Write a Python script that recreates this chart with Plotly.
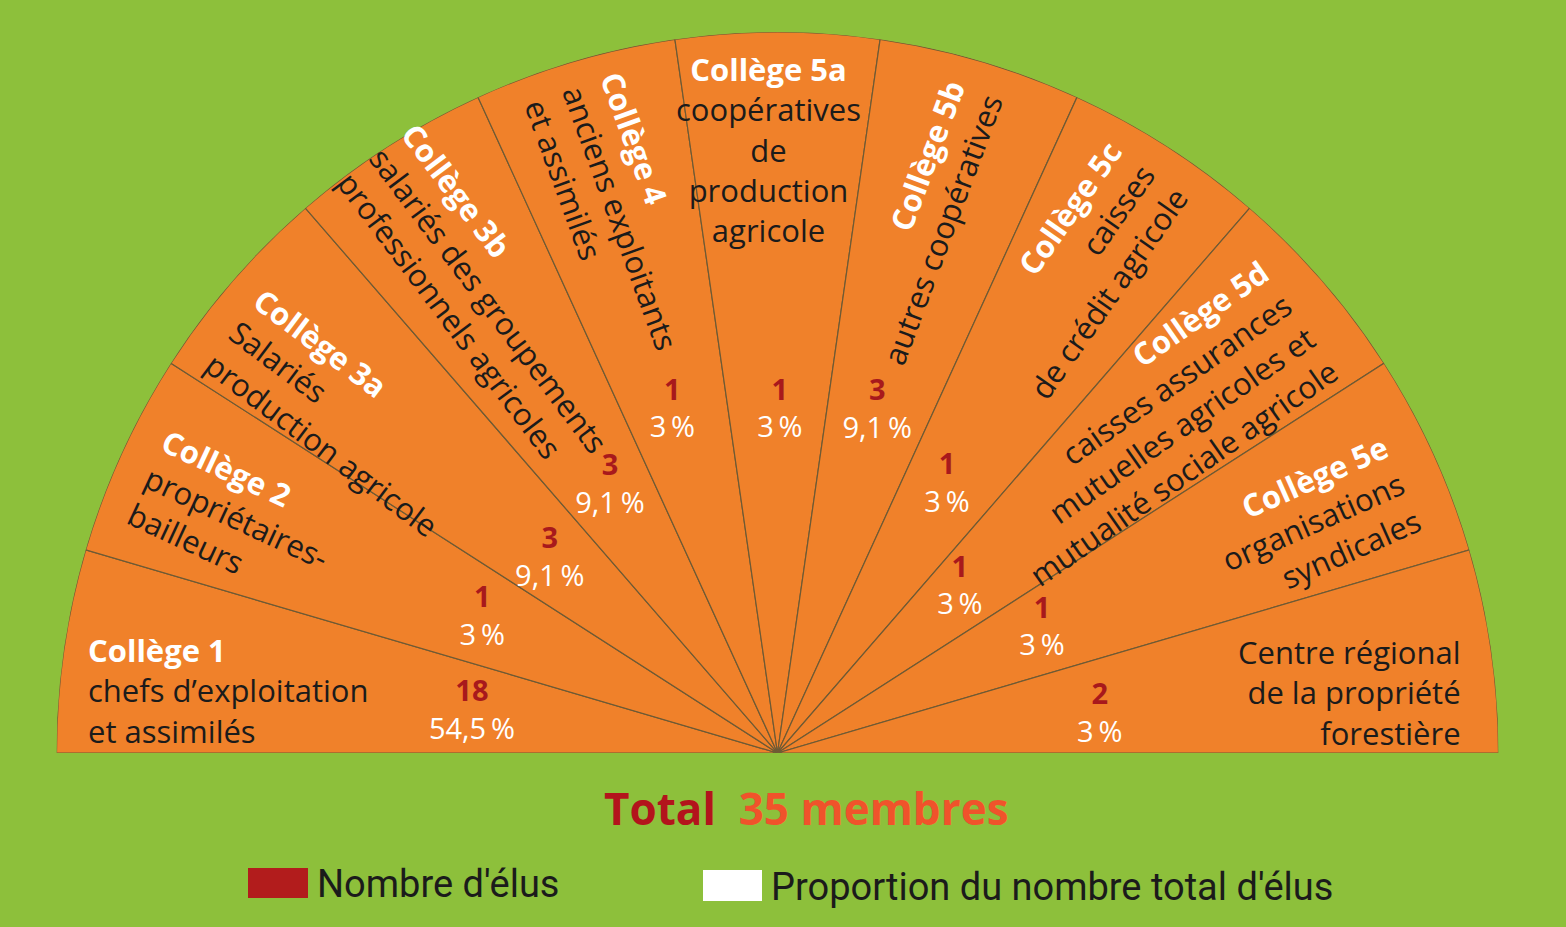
import plotly.graph_objects as go

# ---------------- data ----------------
colleges = ["Collège 1", "Collège 2", "Collège 3a", "Collège 3b", "Collège 4",
            "Collège 5a", "Collège 5b", "Collège 5c", "Collège 5d", "Collège 5e", ""]
descriptions = [
    ["chefs d’exploitation", "et assimilés"],
    ["propriétaires-", "bailleurs"],
    ["Salariés", "production agricole"],
    ["salariés des groupements", "professionnels agricoles"],
    ["anciens exploitants", "et assimilés"],
    ["coopératives", "de", "production", "agricole"],
    ["autres coopératives"],
    ["caisses", "de crédit agricole"],
    ["caisses assurances", "mutuelles agricoles et", "mutualité sociale agricole"],
    ["organisations", "syndicales"],
    ["Centre régional", "de la propriété", "forestière"],
]
elus = [18, 1, 3, 3, 1, 1, 3, 1, 1, 1, 2]
proportion = [54.5, 3, 9.1, 9.1, 3, 3, 9.1, 3, 3, 3, 3]
total_membres = 35
legend_labels = ["Nombre d'élus", "Proportion du nombre total d'élus"]

# ---------------- layout / style ----------------
W, H = 1566, 927
CX, CY, R = 777.5, 753.0, 721.0
GREEN = "#8dc03b"
ORANGE = "#f0812a"
EDGE = "#6e5a35"
DARKRED = "#a8191c"
TEXT = "#1b1b1b"
FONT = "'Open Sans', Roboto, sans-serif"

n = len(elus)
step = 180.0 / n
theta_c = [180 - (k + 0.5) * step for k in range(n)]

# label block placement (pixel centre / anchor), text angle, alignment
label_pos = [(86, 690), (237, 517), (346, 412), (488, 300), (620, 218), (768, 150),
             (923, 223), (1075, 270), (1148, 423), (1313, 521), (1463, 692)]
label_angle = [0, 25, 37, 53, 70, 0, -69.5, -55, -35, -24, 0]
label_align = ["left", "left", "left", "left", "left", "center",
               "right", "right", "right", "right", "right"]
label_xanchor = ["left", "center", "center", "center", "center", "center",
                 "center", "center", "center", "center", "right"]

# value-label positions in polar coordinates (fraction of radius, degrees)
val_r = [0.4275, 0.450, 0.414, 0.4366, 0.496, 0.474, 0.4927, 0.4387, 0.341, 0.405, 0.450]
val_theta = [172.45, 155.5, 139.7, 122.15, 107.1, 89.6, 73.7, 57.6, 42.1, 25.1, 6.6]


def px(x, y):
    return x / W, 1 - y / H


def fmt(v):
    return f"{v:g}".replace(".", ",")


fig = go.Figure()

fig.add_trace(go.Barpolar(
    r=[1] * n,
    theta=theta_c,
    width=[step] * n,
    marker=dict(color=ORANGE, line=dict(color=EDGE, width=1.2)),
    hoverinfo="skip",
    showlegend=False,
))

fig.add_trace(go.Scatterpolar(
    r=val_r,
    theta=val_theta,
    mode="text",
    text=[f'<b><span style="color:{DARKRED}">{e}</span></b><br>{fmt(p)}\u2009%'
          for e, p in zip(elus, proportion)],
    textfont=dict(family=FONT, size=29, color="white"),
    textposition="middle center",
    hoverinfo="skip",
    showlegend=False,
))

x0, x1 = (CX - R) / W, (CX + R) / W
y0, y1 = 1 - CY / H, 1 - (CY - R) / H

fig.update_layout(
    width=W, height=H,
    margin=dict(l=0, r=0, t=0, b=0),
    paper_bgcolor=GREEN,
    plot_bgcolor=GREEN,
    showlegend=False,
    polar=dict(
        domain=dict(x=[x0, x1], y=[y0, y1]),
        sector=[0, 180],
        bgcolor="rgba(0,0,0,0)",
        bargap=0,
        radialaxis=dict(visible=False, range=[0, 1]),
        angularaxis=dict(visible=False, direction="counterclockwise", rotation=0),
    ),
    font=dict(family=FONT),
)

annotations = []
for k in range(n):
    lines = []
    if colleges[k]:
        lines.append(f'<b><span style="color:white">{colleges[k]}</span></b>')
    lines += descriptions[k]
    xp, yp = px(*label_pos[k])
    annotations.append(dict(
        x=xp, y=yp, xref="paper", yref="paper",
        text="<br>".join(lines),
        showarrow=False,
        textangle=label_angle[k],
        align=label_align[k],
        xanchor=label_xanchor[k], yanchor="middle",
        font=dict(family=FONT, size=31, color=TEXT),
    ))

# Total
xp, yp = px(806, 808)
annotations.append(dict(
    x=xp, y=yp, xref="paper", yref="paper", showarrow=False,
    xanchor="center", yanchor="middle",
    text=(f'<b><span style="color:#b3141c">Total</span>'
          f'&nbsp;&nbsp;<span style="color:#f0532b">{total_membres} membres</span></b>'),
    font=dict(family=FONT, size=44),
))

# Legend
legend_boxes = [((248, 868, 308, 898), "#b21c1c"), ((703, 870, 762, 901), "white")]
legend_text_pos = [(315, 884), (769, 887)]
shapes = []
for (bx0, by0, bx1, by1), col in legend_boxes:
    a0, b0 = px(bx0, by1)
    a1, b1 = px(bx1, by0)
    shapes.append(dict(type="rect", xref="paper", yref="paper",
                       x0=a0, y0=b0, x1=a1, y1=b1,
                       fillcolor=col, line=dict(width=0)))
for lbl, (tx, ty) in zip(legend_labels, legend_text_pos):
    xp, yp = px(tx, ty)
    annotations.append(dict(
        x=xp, y=yp, xref="paper", yref="paper", showarrow=False,
        xanchor="left", yanchor="middle", text=lbl,
        font=dict(family="Roboto, sans-serif", size=38, color=TEXT),
    ))

fig.update_layout(annotations=annotations, shapes=shapes)
fig.write_html("out.html")
